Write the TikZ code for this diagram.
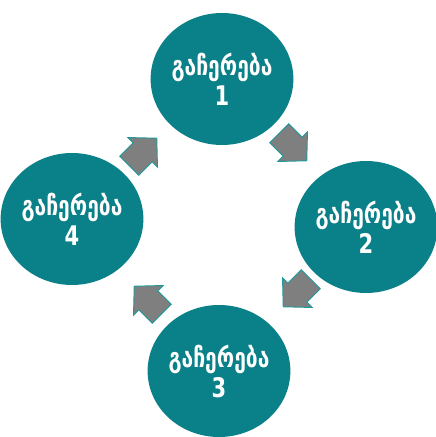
\documentclass[tikz,border=0pt]{standalone}
\usepackage{fontspec}
\newfontfamily\geofont[FakeStretch=0.78]{DejaVu Sans}
\usetikzlibrary{shapes.geometric}
\definecolor{stopTeal}{HTML}{0A8088}
\definecolor{arrGray}{HTML}{7F7F7F}
\definecolor{arrEdge}{HTML}{1C9A9C}

\begin{document}
\begin{tikzpicture}[x=1pt,y=1pt,
  stopnode/.style={ellipse,fill=stopTeal,minimum width=138pt,minimum height=132pt,inner sep=0pt,
    text=white,align=center,font=\geofont\bfseries\fontsize{27}{30}\selectfont},
  flowarrow/.style={draw=arrEdge,fill=arrGray,line width=0.9pt,line join=miter}]
\useasboundingbox (0,0) rectangle (436,437);
% stops, clockwise from the top
\node[stopnode] (s1) at (222,358) {გაჩერება\\1};
\node[stopnode] (s2) at (366,210) {გაჩერება\\2};
\node[stopnode] (s3) at (219,66)  {გაჩერება\\3};
\node[stopnode] (s4) at (72,218)  {გაჩერება\\4};
% block arrows between the stops
\foreach \name/\pos/\ang in {a12/{(293,290)}/-45, a23/{(297,144)}/-135, a34/{(148,137)}/135, a41/{(143,285)}/45}
  \draw[flowarrow,shift={\pos},rotate=\ang] (-19.5,13.5) -- (-0.5,13.5) -- (-0.5,21) -- (19.5,0)
    -- (-0.5,-21) -- (-0.5,-13.5) -- (-19.5,-13.5) -- cycle;
\end{tikzpicture}
\end{document}
